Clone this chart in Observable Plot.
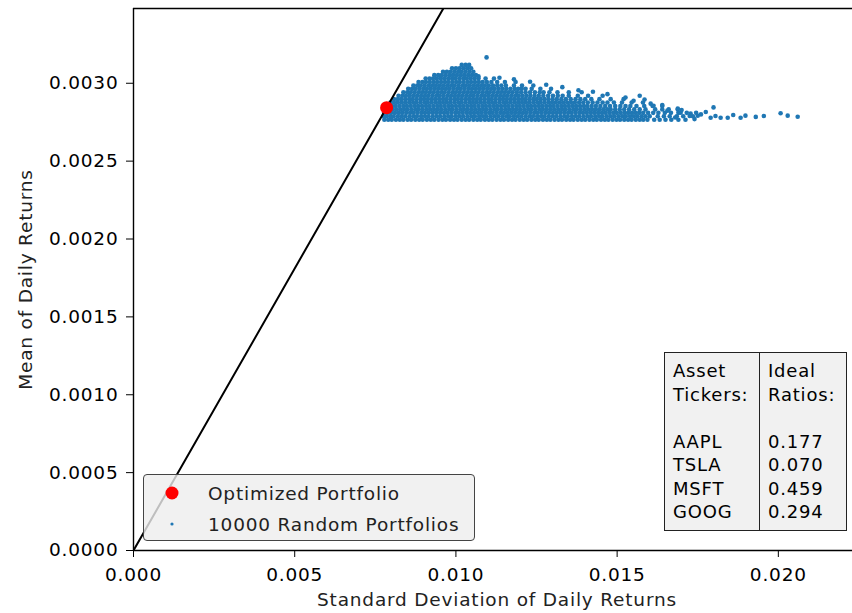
<!DOCTYPE html>
<html>
<head>
<meta charset="utf-8">
<script src="https://cdn.jsdelivr.net/npm/d3@7"></script>
<script src="https://cdn.jsdelivr.net/npm/@observablehq/plot@0.6"></script>
<style>
  html, body { margin: 0; padding: 0; background: #fff; overflow: hidden; }
  #chart { position: relative; width: 852px; height: 613px; font-family: "DejaVu Sans", sans-serif; color: #000; }
  #chart svg { display: block; }
  .legend {
    position: absolute; left: 143px; top: 474px; width: 332px; height: 67px;
    box-sizing: border-box; background: rgba(238, 238, 238, 0.8);
    border: 1.3px solid #444; border-radius: 4px;
    font-size: 18.5px; letter-spacing: 0.8px; color: #222;
  }
  .legend .row { position: absolute; left: 0; height: 31px; line-height: 31px; white-space: nowrap; }
  .legend svg { position: absolute; left: 15px; top: 2px; }
  .legend span { position: absolute; left: 64px; }
  .table {
    position: absolute; left: 664px; top: 352px; width: 183px; height: 179px;
    box-sizing: border-box; background: #f1f1f1; border: 1.5px solid #222;
    display: flex; font-size: 18px; letter-spacing: 0.8px; line-height: 23.5px;
  }
  .table .col { white-space: pre; padding-top: 6px; box-sizing: border-box; }
  .table .col.left { width: 95px; padding-left: 8px; border-right: 1.5px solid #222; }
  .table .col.right { flex: 1; padding-left: 8px; }
</style>
</head>
<body>
<div id="chart"></div>
<script>
// Optimal (tangency) portfolio: daily standard deviation and mean return
const optStd = 0.00785;
const optMean = 0.002843;

// Allocation of the optimal portfolio
const tickers = ["AAPL", "TSLA", "MSFT", "GOOG"];
const weights = [0.177, 0.070, 0.459, 0.294];

// Axis ticks
const xTicks = [0, 0.005, 0.010, 0.015, 0.020];
const yTicks = [0, 0.0005, 0.0010, 0.0015, 0.0020, 0.0025, 0.0030];
const xMax = 0.0223;
const yMax = 0.00348;

// Random portfolios, grouped by mean return (units of 1e-6);
// each list holds the standard deviations (units of 1e-5) at that mean.
const cloudRows = [
  [2766, [778,790,801,814,826,837,850,861,874,886,897,910,922,933,946,958,969,982,994,1005,1018,1030,1041,1054,1066,1077,1090,1102,1113,1126,1138,1149,1162,1174,1185,1198,1210,1221,1234,1246,1257,1270,1282,1293,1306,1318,1329,1342,1354,1365,1378,1390,1401,1414,1426,1437,1450,1462,1473,1486,1498,1509,1522,1534,1545,1558,1570,1581,1594,1615,1632,1650,1668,1690,1712]],
  [2788, [775,784,796,807,820,832,843,856,868,879,892,904,915,928,940,951,964,976,987,1000,1012,1023,1036,1048,1059,1072,1084,1095,1108,1120,1131,1144,1156,1167,1180,1192,1203,1216,1228,1239,1252,1264,1275,1288,1300,1311,1324,1336,1347,1360,1372,1383,1396,1408,1419,1432,1444,1455,1468,1480,1491,1504,1516,1527,1540,1552,1563,1576,1588,1601,1626,1645,1663,1685,1705,1735]],
  [2810, [777,788,799,811,823,834,846,858,869,881,893,904,916,928,939,951,963,974,986,998,1009,1021,1033,1044,1056,1068,1079,1091,1103,1114,1126,1138,1149,1161,1173,1184,1196,1208,1219,1231,1243,1254,1266,1278,1289,1301,1313,1324,1336,1348,1359,1371,1383,1394,1406,1418,1429,1441,1453,1464,1476,1488,1499,1511,1523,1534,1546,1558,1569,1581,1596,1612,1628,1648,1667,1690,1716,1745]],
  [2832, [784,793,804,815,827,839,850,862,874,885,897,909,920,932,944,955,967,979,990,1002,1014,1025,1037,1049,1060,1072,1084,1095,1107,1119,1130,1142,1154,1165,1177,1189,1200,1212,1224,1235,1247,1259,1270,1282,1294,1305,1317,1329,1340,1352,1364,1375,1387,1399,1410,1422,1434,1445,1457,1469,1480,1494,1508,1522,1537,1553,1570,1588,1618,1640,1660,1688]],
  [2854, [790,802,813,825,837,848,860,872,883,895,907,918,930,942,953,965,977,988,1000,1012,1023,1035,1047,1058,1070,1082,1093,1105,1117,1128,1140,1152,1163,1175,1187,1198,1210,1222,1233,1245,1257,1268,1280,1292,1303,1315,1327,1338,1350,1362,1373,1385,1397,1408,1421,1434,1448,1463,1478,1494,1510,1526,1541,1560,1584,1610,1640]],
  [2876, [797,808,820,832,843,855,867,878,890,902,913,925,937,948,960,972,983,995,1007,1018,1030,1042,1053,1065,1077,1088,1100,1112,1123,1135,1147,1158,1170,1182,1193,1205,1217,1228,1240,1252,1263,1275,1287,1298,1310,1322,1333,1345,1357,1369,1382,1395,1409,1424,1439,1455,1470,1490,1515,1545,1580]],
  [2898, [808,820,831,843,855,866,878,890,901,913,925,936,948,960,971,983,995,1006,1018,1030,1041,1053,1065,1076,1088,1100,1111,1123,1135,1146,1158,1170,1181,1193,1205,1216,1228,1240,1251,1263,1275,1287,1300,1313,1327,1341,1356,1371,1386,1401,1420,1445,1480,1520]],
  [2920, [822,834,845,857,869,880,892,904,915,927,939,950,962,974,985,997,1009,1020,1032,1044,1055,1067,1079,1090,1102,1114,1125,1137,1149,1160,1172,1184,1195,1207,1219,1231,1244,1257,1271,1286,1301,1316,1331,1350,1378,1410,1455]],
  [2942, [837,849,860,872,884,895,907,919,930,942,954,965,977,989,1000,1012,1024,1035,1047,1059,1070,1082,1094,1105,1117,1129,1140,1152,1164,1176,1189,1202,1216,1230,1245,1260,1272,1290,1315,1350,1390]],
  [2964, [852,864,875,887,899,910,922,934,945,957,969,980,992,1004,1015,1027,1039,1050,1062,1074,1085,1097,1109,1120,1132,1144,1156,1169,1182,1193,1204,1216,1235,1262,1295]],
  [2986, [868,880,891,903,915,926,938,950,961,973,985,996,1008,1020,1031,1043,1055,1066,1078,1090,1102,1115,1128,1141,1155,1180,1205,1240]],
  [3008, [884,896,907,919,931,942,954,966,977,989,1001,1012,1024,1036,1047,1059,1071,1083,1096,1110,1128,1152,1185]],
  [3030, [906,918,929,941,953,964,976,988,999,1011,1023,1034,1046,1058,1070,1092,1118]],
  [3052, [933,945,956,968,980,991,1003,1015,1026,1038,1050,1062]],
  [3074, [960,972,983,995,1007,1018,1030,1042,1054]],
  [3096, [988,1000,1011,1023,1035,1047]],
  [3118, [1018,1030,1041]]
];

// Isolated random portfolios along the ragged edge and the long tail: [std 1e-5, mean 1e-6]
const cloudOutliers = [
  [1095,3166],[1070,3044],[1135,3035],[1180,3025],[1230,3010],[1280,2990],[1330,2975],
  [1380,2955],[1425,2945],[1470,2930],[1526,2909],[1570,2920],[1551,2888],[1585,2895],
  [1604,2869],[1613,2856],[1640,2860],[1656,2824],[1688,2837],[1697,2811],[1700,2828],
  [1680,2780],[1725,2790],[1728,2805],[1740,2770],[1750,2792],[1760,2800],[1775,2815],
  [1790,2779],[1799,2845],[1805,2790],[1821,2779],[1843,2779],[1860,2796],[1883,2779],
  [1898,2792],[1930,2784],[1955,2790],[2007,2807],[2029,2792],[2060,2785]
];

const randomPortfolios = [
  ...cloudRows.flatMap(([m, stds]) => stds.map(s => ({std: s * 1e-5, mean: m * 1e-6}))),
  ...cloudOutliers.map(([s, m]) => ({std: s * 1e-5, mean: m * 1e-6}))
];

// Capital market line: from the risk-free origin through the optimal portfolio
const sharpe = optMean / optStd;
const capitalLine = [0, 0.012].map(s => ({std: s, mean: s * sharpe}));

const chart = Plot.plot({
  width: 852,
  height: 613,
  marginLeft: 133,
  marginRight: 0,
  marginTop: 8,
  marginBottom: 63,
  style: {fontFamily: "DejaVu Sans", fontSize: "18.5px", letterSpacing: "0.8px", color: "#000", background: "#fff"},
  x: {domain: [0, xMax], ticks: xTicks, tickFormat: d3.format(".3f"), tickSize: 7, tickPadding: 10, label: null},
  y: {domain: [0, yMax], ticks: yTicks, tickFormat: d3.format(".4f"), tickSize: 7, tickPadding: 8, label: null},
  marks: [
    Plot.dot(randomPortfolios, {x: "std", y: "mean", r: 2.3, fill: "#1f77b4", stroke: "none"}),
    Plot.line(capitalLine, {x: "std", y: "mean", stroke: "#000", strokeWidth: 2, clip: true}),
    Plot.dot([{std: optStd, mean: optMean}], {x: "std", y: "mean", r: 6.5, fill: "red", stroke: "none"}),
    Plot.ruleX([0], {stroke: "#000", strokeWidth: 1.4}),
    Plot.ruleY([0], {stroke: "#000", strokeWidth: 1.4}),
    Plot.ruleY([yMax], {stroke: "#000", strokeWidth: 1.4}),
    Plot.text(["Standard Deviation of Daily Returns"], {frameAnchor: "bottom", text: d => d, textAnchor: "middle", dx: 4, dy: 55, fill: "#222"}),
    Plot.text(["Mean of Daily Returns"], {frameAnchor: "left", text: d => d, textAnchor: "middle", rotate: -90, dx: -107, fill: "#222"})
  ]
});

const root = document.getElementById("chart");
root.appendChild(chart);

// Legend
const legend = document.createElement("div");
legend.className = "legend";
legend.innerHTML = `
  <div class="row" style="top:3px"><svg width="28" height="28"><circle cx="13" cy="13" r="6.5" fill="red"/></svg><span>Optimized Portfolio</span></div>
  <div class="row" style="top:34px"><svg width="28" height="28"><circle cx="13" cy="13" r="1.6" fill="#1f77b4"/></svg><span>10000 Random Portfolios</span></div>`;
root.appendChild(legend);

// Allocation table
const table = document.createElement("div");
table.className = "table";
const left = document.createElement("div");
left.className = "col left";
left.textContent = ["Asset", "Tickers:", "", ...tickers].join("\n");
const right = document.createElement("div");
right.className = "col right";
right.textContent = ["Ideal", "Ratios:", "", ...weights.map(w => w.toFixed(3))].join("\n");
table.append(left, right);
root.appendChild(table);
</script>
</body>
</html>
